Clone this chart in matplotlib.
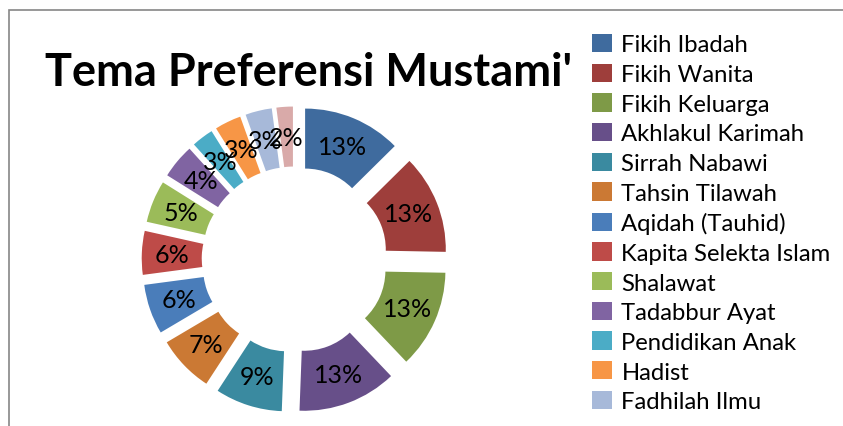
import matplotlib.pyplot as plt
from matplotlib.patches import Rectangle

# theme names (legend shows 13 of them, the last small slice has no visible entry)
topics = ["Fikih Ibadah", "Fikih Wanita", "Fikih Keluarga", "Akhlakul Karimah",
          "Sirrah Nabawi", "Tahsin Tilawah", "Aqidah (Tauhid)", "Kapita Selekta Islam",
          "Shalawat", "Tadabbur Ayat", "Pendidikan Anak", "Hadist", "Fadhilah Ilmu"]
# shares (labels round them to whole percents)
shares = [12.6, 12.7, 12.6, 12.7, 8.6, 7.3, 6.4, 5.6, 5.4, 4.4, 2.8, 3.4, 3.4, 2.1]
colors = ["#3F6B9E", "#9E3E3B", "#7E9A47", "#674F89", "#3A8AA0", "#CB7934",
          "#4A7DBA", "#BE4B48", "#9BBB59", "#8064A2", "#4BACC6", "#F79646",
          "#A7B9D9", "#D9AAA9"]

W, H = 843, 427
FONT = "Lato"

fig = plt.figure(figsize=(W / 100, H / 100), dpi=100)
ax = fig.add_axes([0, 0, 1, 1])

# donut geometry in pixels
cx, cy, R = 294.7, 260.5, 126.0

wedges, _, pcts = ax.pie(shares, colors=colors, startangle=90, counterclock=False,
                         explode=[27 / R] * len(shares), radius=1.0,
                         autopct="%1.0f%%", pctdistance=0.76,
                         wedgeprops=dict(width=60 / R, linewidth=0),
                         textprops=dict(fontsize=18, family=FONT, color="black"))

ax.set_xlim(-cx / R, (W - cx) / R)
ax.set_ylim(-(H - cy) / R, cy / R)
ax.set_aspect("equal")
ax.axis("off")

fig.text(45 / W, (H - 86) / H, "Tema Preferensi Mustami'", fontsize=32.5,
         fontweight="bold", family=FONT, va="baseline", ha="left")

leg = ax.legend(wedges[:len(topics)], topics, loc="upper left",
                bbox_to_anchor=(592 / W, (H - 35) / H), bbox_transform=fig.transFigure,
                frameon=False, prop=dict(family=FONT, size=17.2),
                handlelength=0.85, handleheight=0.8, handletextpad=0.38,
                labelspacing=0.345, borderaxespad=0, borderpad=0)

# outer chart border, running off the right and bottom edges
fig.patches.append(Rectangle((8.5 / W, -0.1), 1.2, (H - 11) / H + 0.1,
                             transform=fig.transFigure, fill=False,
                             edgecolor="#868686", linewidth=1.2))

fig.savefig("out.png", dpi=100)
